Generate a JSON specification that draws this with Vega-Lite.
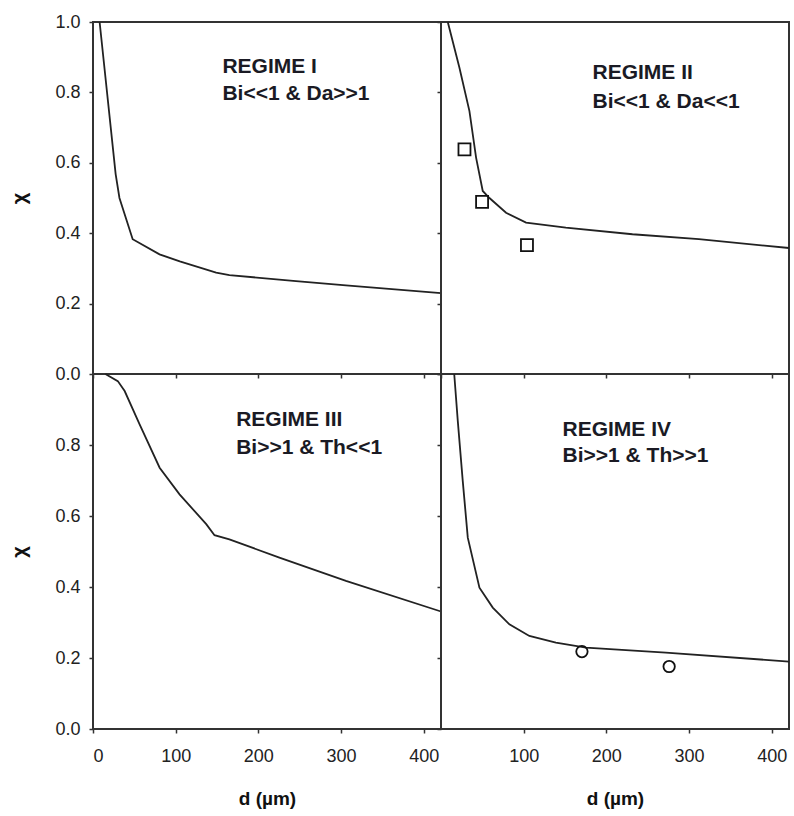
{
  "$schema": "https://vega.github.io/schema/vega-lite/v6.json",
  "padding": {"left": 8, "top": 12, "right": 4, "bottom": 4},
  "background": "white",
  "config": {
    "view": {"stroke": "#333333", "strokeWidth": 2},
    "font": "Liberation Sans",
    "axis": {
      "grid": false,
      "domain": false,
      "tickColor": "#333333",
      "tickWidth": 1.5,
      "tickSize": 4,
      "labelFont": "Liberation Sans",
      "labelFontSize": 18,
      "labelColor": "#222222",
      "labelPadding": 9,
      "titleFont": "Liberation Sans",
      "titleFontSize": 19,
      "titleFontWeight": "bold",
      "titleColor": "#111111"
    },
    "line": {"color": "#222222", "strokeWidth": 1.8},
    "text": {"font": "Liberation Sans", "fontSize": 21, "fontWeight": "bold", "color": "#1a1a24", "align": "left", "baseline": "alphabetic"}
  },
  "datasets": {
    "curve1": [
      {"d": 8, "chi": 1.0}, {"d": 27.4, "chi": 0.568}, {"d": 32, "chi": 0.5}, {"d": 48, "chi": 0.383},
      {"d": 80.5, "chi": 0.34}, {"d": 105, "chi": 0.32}, {"d": 149, "chi": 0.288}, {"d": 165, "chi": 0.281},
      {"d": 245.6, "chi": 0.264}, {"d": 306, "chi": 0.252}, {"d": 421, "chi": 0.23}
    ],
    "curve2": [
      {"d": 8.2, "chi": 1.0}, {"d": 22.3, "chi": 0.87}, {"d": 34.4, "chi": 0.747}, {"d": 42.5, "chi": 0.614},
      {"d": 50.5, "chi": 0.52}, {"d": 58.6, "chi": 0.5}, {"d": 78.7, "chi": 0.458}, {"d": 102.9, "chi": 0.43},
      {"d": 151, "chi": 0.416}, {"d": 231.6, "chi": 0.397}, {"d": 312, "chi": 0.383}, {"d": 421, "chi": 0.358}
    ],
    "points2": [
      {"d": 28.4, "chi": 0.638}, {"d": 49.7, "chi": 0.489}, {"d": 104, "chi": 0.366}
    ],
    "curve3": [
      {"d": 15, "chi": 1.0}, {"d": 30, "chi": 0.98}, {"d": 38.3, "chi": 0.952}, {"d": 56.4, "chi": 0.858},
      {"d": 80.6, "chi": 0.736}, {"d": 104.7, "chi": 0.661}, {"d": 137, "chi": 0.577}, {"d": 147, "chi": 0.546},
      {"d": 165, "chi": 0.534}, {"d": 225.5, "chi": 0.483}, {"d": 306, "chi": 0.417}, {"d": 421, "chi": 0.331}
    ],
    "curve4": [
      {"d": 16, "chi": 1.0}, {"d": 20.3, "chi": 0.868}, {"d": 26.3, "chi": 0.699}, {"d": 32.4, "chi": 0.539},
      {"d": 46.5, "chi": 0.398}, {"d": 62.6, "chi": 0.342}, {"d": 82.7, "chi": 0.295}, {"d": 106.9, "chi": 0.262},
      {"d": 139, "chi": 0.243}, {"d": 175.4, "chi": 0.229}, {"d": 272, "chi": 0.215}, {"d": 421, "chi": 0.19}
    ],
    "points4": [
      {"d": 170.5, "chi": 0.218}, {"d": 276, "chi": 0.176}
    ],
    "labels1": [{"d": 156.6, "chi": 0.855, "t": "REGIME I"}, {"d": 156.6, "chi": 0.778, "t": "Bi<<1 & Da>>1"}],
    "labels2": [{"d": 183.3, "chi": 0.837, "t": "REGIME II"}, {"d": 183.3, "chi": 0.757, "t": "Bi<<1 & Da<<1"}],
    "labels3": [{"d": 173.2, "chi": 0.854, "t": "REGIME III"}, {"d": 173.2, "chi": 0.774, "t": "Bi>>1 & Th<<1"}],
    "labels4": [{"d": 147, "chi": 0.825, "t": "REGIME IV"}, {"d": 147, "chi": 0.753, "t": "Bi>>1 & Th>>1"}]
  },
  "columns": 2,
  "spacing": 0,
  "bounds": "flush",
  "concat": [
    {
      "width": 348, "height": 352,
      "layer": [
        {
          "data": {"name": "curve1"},
          "mark": {"type": "line"},
          "encoding": {
            "x": {"field": "d", "type": "quantitative", "scale": {"domain": [0, 421], "nice": false},
                  "axis": {"labels": false, "title": null, "values": [0, 100, 200, 300, 400]}},
            "y": {"field": "chi", "type": "quantitative", "scale": {"domain": [0, 1], "nice": false},
                  "axis": {"values": [0, 0.2, 0.4, 0.6, 0.8, 1.0], "format": ".1f", "title": "χ", "titleFontSize": 20, "titlePadding": 25}}
          }
        },
        {
          "data": {"name": "labels1"},
          "mark": {"type": "text"},
          "encoding": {
            "x": {"field": "d", "type": "quantitative"},
            "y": {"field": "chi", "type": "quantitative"},
            "text": {"field": "t"}
          }
        }
      ]
    },
    {
      "width": 348, "height": 352,
      "layer": [
        {
          "data": {"name": "curve2"},
          "mark": {"type": "line"},
          "encoding": {
            "x": {"field": "d", "type": "quantitative", "scale": {"domain": [0, 421], "nice": false},
                  "axis": {"labels": false, "title": null, "values": [0, 100, 200, 300, 400]}},
            "y": {"field": "chi", "type": "quantitative", "scale": {"domain": [0, 1], "nice": false},
                  "axis": {"labels": false, "title": null, "values": [0, 0.2, 0.4, 0.6, 0.8, 1.0]}}
          }
        },
        {
          "data": {"name": "points2"},
          "mark": {"type": "point", "shape": "square", "filled": false, "size": 144, "stroke": "#111111", "strokeWidth": 1.8, "opacity": 1},
          "encoding": {
            "x": {"field": "d", "type": "quantitative"},
            "y": {"field": "chi", "type": "quantitative"}
          }
        },
        {
          "data": {"name": "labels2"},
          "mark": {"type": "text"},
          "encoding": {
            "x": {"field": "d", "type": "quantitative"},
            "y": {"field": "chi", "type": "quantitative"},
            "text": {"field": "t"}
          }
        }
      ]
    },
    {
      "width": 348, "height": 355,
      "layer": [
        {
          "data": {"name": "curve3"},
          "mark": {"type": "line"},
          "encoding": {
            "x": {"field": "d", "type": "quantitative", "scale": {"domain": [0, 421], "nice": false},
                  "axis": {"title": "d (µm)", "values": [0, 100, 200, 300, 400], "labelPadding": 14, "titlePadding": 24}},
            "y": {"field": "chi", "type": "quantitative", "scale": {"domain": [0, 1], "nice": false},
                  "axis": {"values": [0, 0.2, 0.4, 0.6, 0.8], "format": ".1f", "title": "χ", "titleFontSize": 20, "titlePadding": 25}}
          }
        },
        {
          "data": {"name": "labels3"},
          "mark": {"type": "text"},
          "encoding": {
            "x": {"field": "d", "type": "quantitative"},
            "y": {"field": "chi", "type": "quantitative"},
            "text": {"field": "t"}
          }
        }
      ]
    },
    {
      "width": 348, "height": 355,
      "layer": [
        {
          "data": {"name": "curve4"},
          "mark": {"type": "line"},
          "encoding": {
            "x": {"field": "d", "type": "quantitative", "scale": {"domain": [0, 421], "nice": false},
                  "axis": {"title": "d (µm)", "values": [100, 200, 300, 400], "labelPadding": 14, "titlePadding": 24}},
            "y": {"field": "chi", "type": "quantitative", "scale": {"domain": [0, 1], "nice": false},
                  "axis": {"labels": false, "title": null, "values": [0, 0.2, 0.4, 0.6, 0.8, 1.0]}}
          }
        },
        {
          "data": {"name": "points4"},
          "mark": {"type": "point", "shape": "circle", "filled": false, "size": 130, "stroke": "#111111", "strokeWidth": 1.8, "opacity": 1},
          "encoding": {
            "x": {"field": "d", "type": "quantitative"},
            "y": {"field": "chi", "type": "quantitative"}
          }
        },
        {
          "data": {"name": "labels4"},
          "mark": {"type": "text"},
          "encoding": {
            "x": {"field": "d", "type": "quantitative"},
            "y": {"field": "chi", "type": "quantitative"},
            "text": {"field": "t"}
          }
        }
      ]
    }
  ]
}
